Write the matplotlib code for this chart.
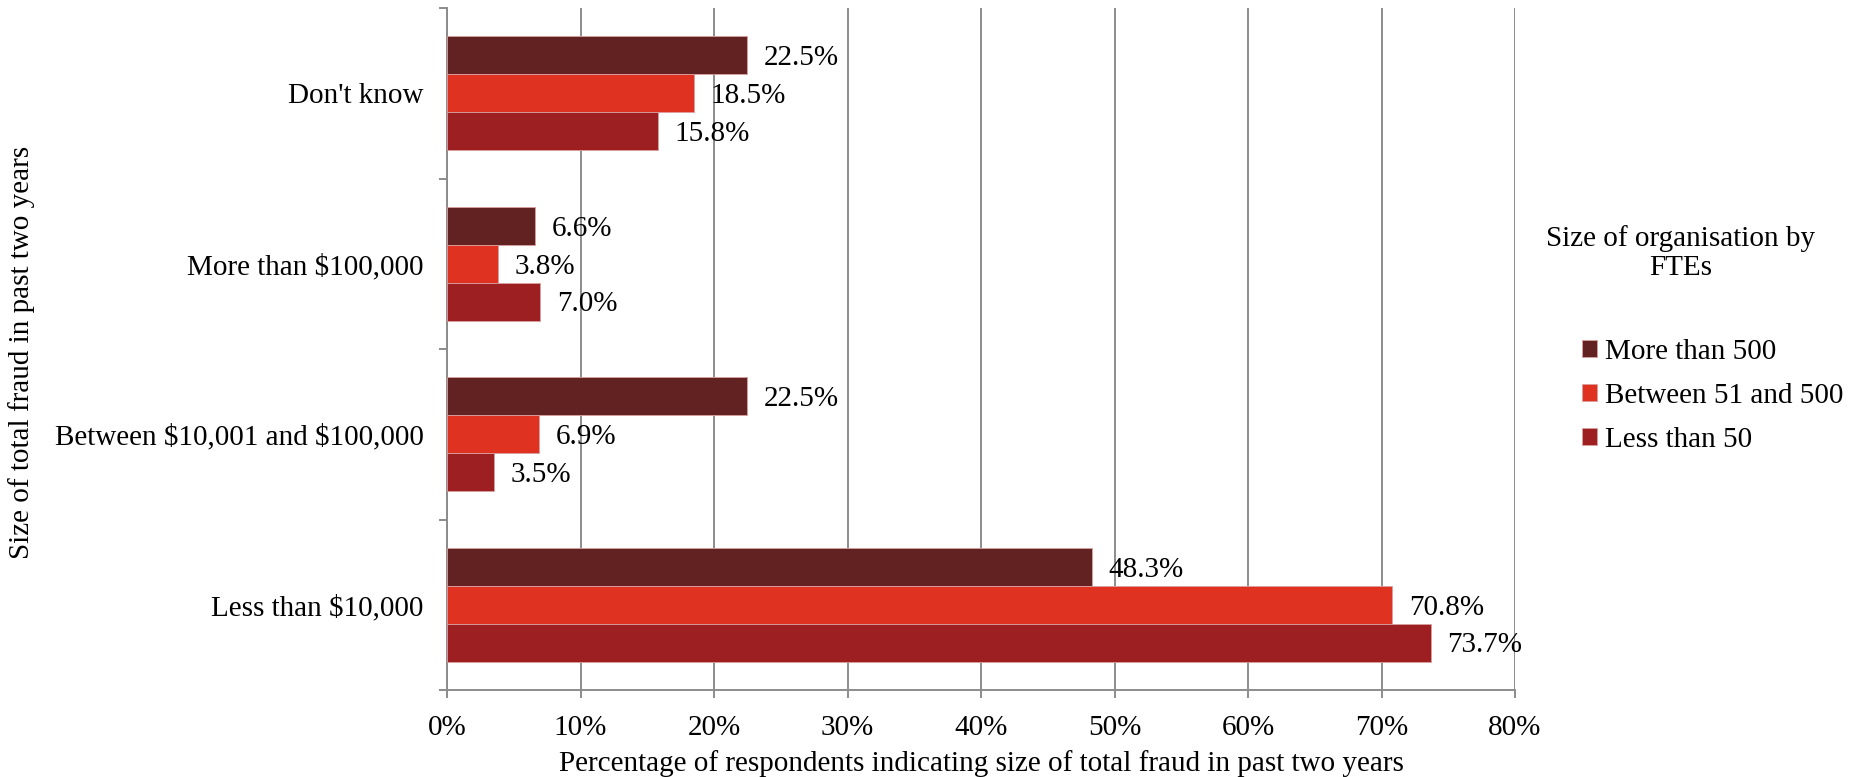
import matplotlib
matplotlib.use("Agg")
import matplotlib.pyplot as plt
import numpy as np

plt.rcParams['font.family'] = ['Liberation Serif', 'DejaVu Serif']

categories = ["Less than \\$10,000", "Between \\$10,001 and \\$100,000",
              "More than \\$100,000", "Don't know"]
series_names = ["More than 500", "Between 51 and 500", "Less than 50"]
more_than_500 = [48.3, 22.5, 6.6, 22.5]
between_51_500 = [70.8, 6.9, 3.8, 18.5]
less_than_50 = [73.7, 3.5, 7.0, 15.8]
xticks = [0, 10, 20, 30, 40, 50, 60, 70, 80]

colors = ["#622221", "#DF3220", "#9E1F21"]
series = [more_than_500, between_51_500, less_than_50]

W, H = 1856, 777
fig = plt.figure(figsize=(W / 100, H / 100), dpi=100)
ax = fig.add_axes([447 / W, 1 - 690 / H, (1515 - 447) / W, (690 - 8) / H])

y = np.arange(len(categories))
h = 0.222
offsets = [h, 0, -h]
grid_c = "#8c8c8c"
fs = 21

bars = []
for vals, off, col, name in zip(series, offsets, colors, series_names):
    b = ax.barh(y + off, vals, height=h, color=col, edgecolor="#d9a0a0",
                linewidth=0.6, label=name, zorder=3)
    bars.append(b)
    for yi, v in zip(y, vals):
        ax.annotate(f"{v:.1f}%", (v, yi + off), xytext=(12, -2),
                    textcoords="offset points", va="center", ha="left",
                    fontsize=fs, color="black", zorder=4)

ax.set_xlim(0, 80)
ax.set_ylim(-0.5, len(categories) - 0.5)
ax.set_xticks(xticks)
ax.set_xticklabels([f"{t}%" for t in xticks], fontsize=fs)
ax.set_yticks(y)
ax.set_yticklabels(categories, fontsize=fs)
ax.set_yticks(np.arange(-0.5, len(categories)), minor=True)

ax.tick_params(axis="y", which="major", length=0, pad=17)
ax.tick_params(axis="y", which="minor", length=6, width=1.4, color=grid_c,
               direction="out")
ax.tick_params(axis="x", which="major", length=6, width=1.4, color=grid_c,
               direction="out", pad=12)

ax.grid(axis="x", color=grid_c, linewidth=1.4, zorder=0)
ax.set_axisbelow(True)
for s in ["top", "right"]:
    ax.spines[s].set_visible(False)
for s in ["left", "bottom"]:
    ax.spines[s].set_color(grid_c)
    ax.spines[s].set_linewidth(1.4)

fig.text(981 / W, 1 - 764 / H,
         "Percentage of respondents indicating size of total fraud in past two years",
         ha="center", va="center", fontsize=fs)
fig.text(22 / W, 1 - 352 / H, "Size of total fraud in past two years",
         rotation=90, ha="center", va="center", fontsize=fs)

fig.text(1681 / W, 1 - 253 / H, "Size of organisation by\nFTEs",
         ha="center", va="center", fontsize=fs, linespacing=1.15)
fig.legend(handles=bars, labels=series_names, loc="center left",
           bbox_to_anchor=(1582 / W, 1 - 396 / H), bbox_transform=fig.transFigure,
           frameon=False, fontsize=fs, handlelength=0.5, handleheight=0.5,
           handletextpad=0.3, labelspacing=0.62, borderpad=0, borderaxespad=0)

fig.savefig("out.png", dpi=100)
